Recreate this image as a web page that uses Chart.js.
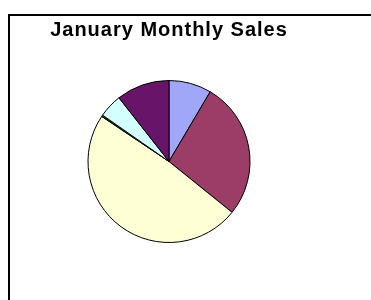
<!DOCTYPE html>
<html>
<head>
<meta charset="utf-8">
<script src="https://cdn.jsdelivr.net/npm/chart.js@4.4.0/dist/chart.umd.min.js"></script>
<style>
  body { margin: 0; background: #fff; overflow: hidden; }
  #marco { position: absolute; left: 8px; top: 14px; width: 420px; height: 360px; border: 2px solid #000; }
  #grafico { position: absolute; left: 0; top: 0; }
</style>
</head>
<body>
<div id="marco"></div>
<canvas id="grafico" width="338" height="300"></canvas>
<script>
const titulo = 'January Monthly Sales';
const categorias = ['Item 1', 'Item 2', 'Item 3', 'Item 4', 'Item 5', 'Item 6'];
const vendas = [8.5, 27.3, 48.6, 0.3, 4.7, 10.6];
const cores = ['#a0a6f8', '#9c3d68', '#ffffd6', '#2f3a2f', '#d4ffff', '#681468'];

const grafico = document.querySelector('#grafico');

// espaçamento extra nas letras do título (texto do original é mais largo)
const espacoLetras = {
  id: 'espacoLetras',
  beforeDraw(chart) { chart.ctx.letterSpacing = '1px'; },
  afterDraw(chart) { chart.ctx.letterSpacing = '0px'; }
};

new Chart(grafico, {
  type: 'pie',
  data: {
    labels: categorias,
    datasets: [{
      data: vendas,
      backgroundColor: cores,
      borderColor: '#000',
      borderWidth: 1
    }]
  },
  options: {
    responsive: false,
    animation: false,
    layout: { padding: { top: 0, bottom: 57, left: 0, right: 0 } },
    plugins: {
      legend: { display: false },
      tooltip: { enabled: false },
      title: {
        display: true,
        text: titulo,
        color: '#000',
        font: { family: 'Liberation Sans, Arial, sans-serif', size: 20, weight: 'bold', lineHeight: 1.2 },
        padding: { top: 18, bottom: 38 }
      }
    }
  },
  plugins: [espacoLetras]
});
</script>
</body>
</html>
